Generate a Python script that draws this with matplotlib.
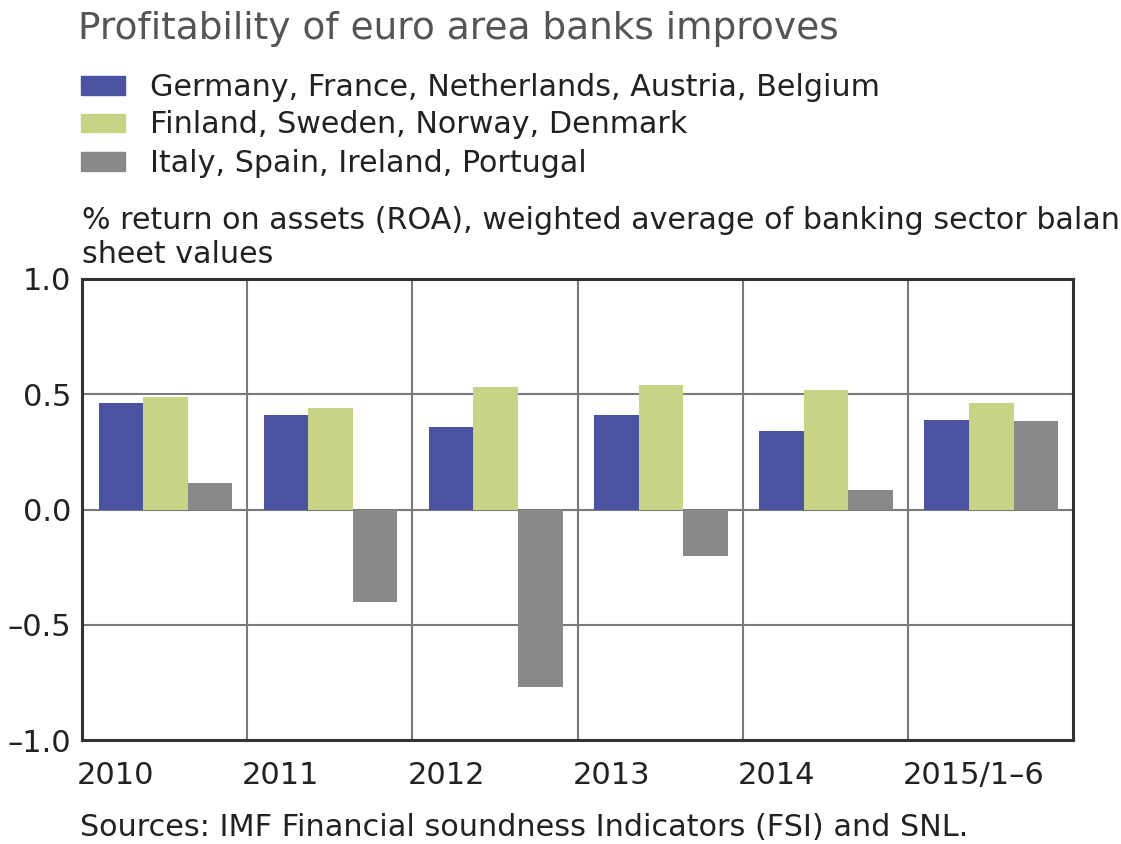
import matplotlib
matplotlib.use("Agg")
import matplotlib.pyplot as plt
from matplotlib.patches import Rectangle
import matplotlib.transforms as mtransforms

# ---- data ----
categories = ["2010", "2011", "2012", "2013", "2014", "2015/1–6"]
series_names = [
    "Germany, France, Netherlands, Austria, Belgium",
    "Finland, Sweden, Norway, Denmark",
    "Italy, Spain, Ireland, Portugal",
]
core = [0.46, 0.41, 0.36, 0.41, 0.34, 0.39]
nordic = [0.49, 0.44, 0.53, 0.54, 0.52, 0.46]
periphery = [0.117, -0.40, -0.77, -0.20, 0.085, 0.385]
ytick_vals = [-1.0, -0.5, 0.0, 0.5, 1.0]
ytick_labels = ["–1.0", "–0.5", "0.0", "0.5", "1.0"]

title = "Profitability of euro area banks improves"
subtitle_lines = ["% return on assets (ROA), weighted average of banking sector balance",
                  "sheet values"]
source = "Sources: IMF Financial soundness Indicators (FSI) and SNL."

colors = ["#4a53a1", "#c8d385", "#898989"]

plt.rcParams['font.family'] = ['DejaVu Sans']

W, H = 1121, 844
fig = plt.figure(figsize=(W / 100, H / 100), dpi=100)
ax = fig.add_axes([82 / W, 1 - 740 / H, (1073 - 82) / W, (740 - 279) / H])

bw = 0.27
offsets = [0.1, 0.37, 0.64]
for s, (vals, c) in enumerate(zip([core, nordic, periphery], colors)):
    xs = [i + offsets[s] for i in range(len(categories))]
    ax.bar(xs, vals, width=bw, align='edge', color=c, zorder=3, linewidth=0)

ax.set_xlim(0, len(categories))
ax.set_ylim(-1.0, 1.0)
ax.set_yticks(ytick_vals)
ax.set_yticklabels(ytick_labels, fontsize=22, color="#222222")
ax.set_xticks(range(len(categories)))
ax.set_xticklabels(categories, fontsize=22, color="#222222", ha='left')
ax.tick_params(axis='both', length=0)
ax.tick_params(axis='y', pad=8)
ax.tick_params(axis='x', pad=15)
offset = mtransforms.ScaledTranslation(-5 / 100, 0, fig.dpi_scale_trans)
for lab in ax.get_xticklabels():
    lab.set_transform(lab.get_transform() + offset)

ax.grid(True, color="#7a7a7a", linewidth=1.5, zorder=0)
ax.set_axisbelow(True)
for sp in ax.spines.values():
    sp.set_color("#333333")
    sp.set_linewidth(2.2)

# title
fig.text(78 / W, 1 - 39 / H, title, fontsize=27, color="#555555", ha='left', va='baseline')

# legend (manual)
row_y = [85.5, 123, 161.5]
for name, c, yc in zip(series_names, colors, row_y):
    fig.patches.append(Rectangle((81 / W, 1 - (yc + 9) / H), 44 / W, 18 / H,
                                 transform=fig.transFigure, color=c, figure=fig))
    fig.text(150 / W, 1 - (yc + 10) / H, name, fontsize=21.7, color="#222222",
             ha='left', va='baseline')

# subtitle
fig.text(82 / W, 1 - 229 / H, subtitle_lines[0], fontsize=21.7, color="#222222",
         ha='left', va='baseline')
fig.text(82 / W, 1 - 263 / H, subtitle_lines[1], fontsize=21.7, color="#222222",
         ha='left', va='baseline')

# source
fig.text(80 / W, 1 - 836 / H, source, fontsize=21.8, color="#222222", ha='left', va='baseline')

fig.savefig("out.png", dpi=100, facecolor="white")
